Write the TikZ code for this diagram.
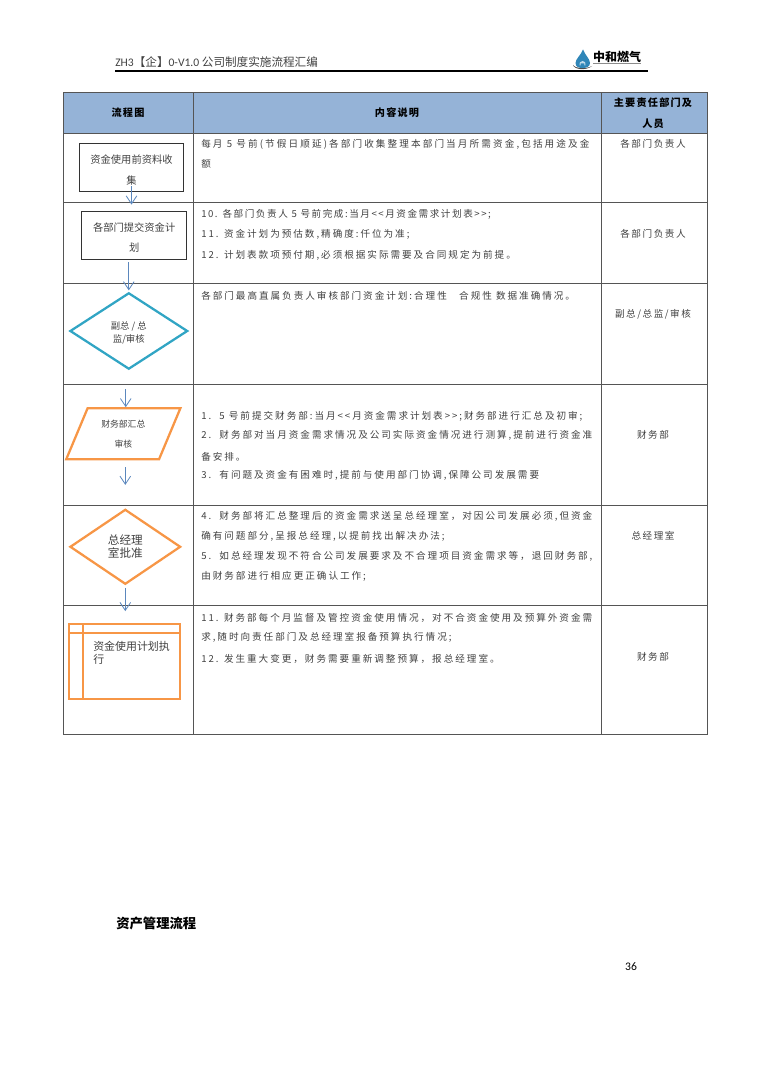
\documentclass[tikz,border=0pt]{standalone}
\usepackage{xcolor}
\usepackage{fontspec}
\usetikzlibrary{arrows.meta, shapes.geometric}
\setmainfont{Carlito}
\newfontfamily\cjk{Noto Sans CJK SC}
\newfontfamily\cjkbody[LetterSpace=20.5]{Noto Sans CJK SC}
\newfontfamily\cjkwide[LetterSpace=22]{Noto Sans CJK SC}
\newfontfamily\cjkduty[LetterSpace=16]{Noto Sans CJK SC}
\newfontfamily\cjkhead[LetterSpace=12]{Noto Sans CJK SC}
\definecolor{headBlue}{HTML}{95B3D7}
\definecolor{ruleGray}{HTML}{555555}
\definecolor{inkGray}{HTML}{404040}
\definecolor{flowOrange}{HTML}{F79646}
\definecolor{flowTeal}{HTML}{31A5C4}
\definecolor{arrowBlue}{HTML}{5B87BD}
\definecolor{dropBlue}{HTML}{2F86B8}
\begin{document}
\begin{tikzpicture}[
    x=0.75pt, y=-0.75pt,
    rule/.style={draw=ruleGray, line width=0.75pt},
    bodyline/.style={anchor=west, inner sep=0pt, font=\cjkbody\fontsize{7.2}{7.2}\selectfont, text=inkGray},
    wideline/.style={bodyline, font=\cjkwide\fontsize{7.2}{7.2}\selectfont},
    shortline/.style={bodyline, font=\cjkduty\fontsize{7.2}{7.2}\selectfont},
    dutyline/.style={inner sep=0pt, font=\cjkduty\fontsize{7.2}{7.2}\selectfont, text=inkGray},
    headcell/.style={inner sep=0pt, font=\cjkhead\bfseries\fontsize{7.6}{7.6}\selectfont},
    flowbox/.style={rectangle, draw=black!80, line width=0.75pt, inner sep=0pt, align=center, font=\cjk\fontsize{7.7}{15.4}\selectfont, text=inkGray},
    decision/.style={diamond, inner sep=0pt, align=center, line width=1.7pt},
    datasum/.style={trapezium, trapezium left angle=65, trapezium right angle=115, trapezium stretches=true, draw=flowOrange, line width=1.7pt, inner sep=0pt, align=center, font=\cjk\fontsize{6.6}{15}\selectfont, text=inkGray},
    store/.style={rectangle, draw=flowOrange, line width=1.7pt, inner sep=0pt},
    arrow/.style={-{Straight Barb[length=6pt, width=8pt]}, line width=0.6pt, arrowBlue}
]
\useasboundingbox (0,0) rectangle (764,1080);

% Page head
\node[anchor=west, inner sep=0pt, font=\fontsize{8.7}{9}\selectfont, text=inkGray] (title) at (115,62) {ZH3{\cjk【企】}0-V1.0 {\cjk 公司制度实施流程汇编}};
\draw[line width=1.1pt] (115,71) -- (648,71);

% Logo
\fill[dropBlue] (583,49.5) .. controls (585,55) and (590,59) .. (590,63) .. controls (590,67) and (586,68) .. (582.5,68) .. controls (579,68) and (575.5,67) .. (575.5,63) .. controls (575.5,59) and (581,55) .. (583,49.5) -- cycle;
\fill[white!70!dropBlue] (582.5,61) .. controls (585,61) and (586,63) .. (585.5,65.5) -- (584.3,65.5) -- (584.3,63.5) -- (580.7,63.5) -- (580.7,65.5) -- (579.5,65.5) .. controls (579,63) and (580,61) .. (582.5,61) -- cycle;
\fill[black!70] (573,65) .. controls (574,69.5) and (586,71) .. (592,66) .. controls (587,69) and (576,69) .. (573,65) -- cycle;
\node[inner sep=0pt, font=\cjk\bfseries\fontsize{9}{9}\selectfont] (logo) at (617,57) {中和燃气};
\draw[black!45, line width=0.9pt] (593,63.5) -- (641,63.5);

% Table
\fill[headBlue] (63,93) rectangle (707,133.5);
\draw[rule] (63,93) rectangle (707,734);
\draw[rule] (193.5,93) -- (193.5,734);
\draw[rule] (601,93) -- (601,734);
\draw[rule] (63,133.5) -- (707,133.5);
\draw[rule] (63,202.5) -- (707,202.5);
\draw[rule] (63,284) -- (707,284);
\draw[rule] (63,384.5) -- (707,384.5);
\draw[rule] (63,505.5) -- (707,505.5);
\draw[rule] (63,605.5) -- (707,605.5);

% Table head
\node[headcell] (headflow) at (128,113) {流程图};
\node[headcell] (headtext) at (397,113) {内容说明};
\node[headcell] (headduty) at (653,103) {主要责任部门及};
\node[headcell] (headdutyb) at (653,124) {人员};

% Flow shapes
\node[flowbox, minimum width=77.5pt, minimum height=36pt] (collect) at (131.5,167.7) {\rule{0pt}{10pt}资金使用前资料收\\集};
\node[flowbox, minimum width=78.8pt, minimum height=36pt] (submit) at (134.2,235.3) {\rule{0pt}{10pt}各部门提交资金计\\划};
\node[decision, draw=flowTeal, minimum width=88.3pt, minimum height=57.3pt, font=\cjk\fontsize{7}{10}\selectfont, text=inkGray] (review) at (128.8,331) {\rule{0pt}{9pt}副总 / 总\\监/审核};
\node[datasum, minimum width=86pt, minimum height=38.2pt] (summary) at (123.3,433.8) {财务部汇总\\审核};
\node[decision, draw=flowOrange, minimum width=83pt, minimum height=56.2pt, font=\cjk\fontsize{8.7}{10}\selectfont, text=inkGray] (approve) at (125.3,546.8) {总经理\\室批准};
\node[store, minimum width=83.3pt, minimum height=56.3pt] (execute) at (124.5,661.8) {};
\draw[flowOrange, line width=1.7pt] (execute.north west |- 0,633.3) -- (execute.north east |- 0,633.3);
\draw[flowOrange, line width=1.7pt] (83.3,0 |- execute.north) -- (83.3,0 |- execute.south);
\node[anchor=north west, inner sep=0pt, align=left, font=\cjk\fontsize{8.2}{9.8}\selectfont, text=inkGray] (executetext) at (93,640.8) {资金使用计划执\\行};

% Edges
\draw[arrow, shorten <=-4.3pt, shorten >=4.7pt] (collect.south) -- (collect.south |- submit.north);
\draw[arrow, shorten <=2pt, shorten >=1pt] (review.north |- submit.south) -- (review.north);
\draw[arrow, shorten <=14pt] ([xshift=-2.3pt]review.south) -- ([xshift=-2.3pt]review.south |- summary.north);
\draw[arrow, shorten <=5pt, shorten >=17.5pt] (approve.north |- summary.south) -- (approve.north);
\draw[arrow, shorten <=1.8pt, shorten >=9pt] (approve.south) -- (approve.south |- execute.north);

% Row text
\node[wideline] (r1a) at (201,144) {每月 5 号前(节假日顺延)各部门收集整理本部门当月所需资金,包括用途及金};
\node[bodyline] (r1b) at (201,164.3) {额};
\node[shortline] (r2a) at (201,214) {10. 各部门负责人 5 号前完成:当月<<月资金需求计划表>>;};
\node[bodyline] (r2b) at (201,234) {11. 资金计划为预估数,精确度:仟位为准;};
\node[bodyline] (r2c) at (201,255) {12. 计划表款项预付期,必须根据实际需要及合同规定为前提。};
\node[bodyline] (r3a) at (201,296) {各部门最高直属负责人审核部门资金计划:合理性\ \ \ 合规性 数据准确情况。};
\node[bodyline] (r4a) at (201,416) {1.\ \ 5 号前提交财务部:当月<<月资金需求计划表>>;财务部进行汇总及初审;};
\node[bodyline] (r4b) at (201,435.3) {2.\ \ 财务部对当月资金需求情况及公司实际资金情况进行测算,提前进行资金准};
\node[bodyline] (r4c) at (201,457.3) {备安排。};
\node[bodyline] (r4d) at (201,475.3) {3.\ \ 有问题及资金有困难时,提前与使用部门协调,保障公司发展需要};
\node[bodyline] (r5a) at (201,516.7) {4.\ \ 财务部将汇总整理后的资金需求送呈总经理室，对因公司发展必须,但资金};
\node[bodyline] (r5b) at (201,536) {确有问题部分,呈报总经理,以提前找出解决办法;};
\node[bodyline] (r5c) at (201,556) {5.\ \ 如总经理发现不符合公司发展要求及不合理项目资金需求等，退回财务部,};
\node[bodyline] (r5d) at (201,576) {由财务部进行相应更正确认工作;};
\node[bodyline] (r6a) at (201,618.3) {11. 财务部每个月监督及管控资金使用情况，对不合资金使用及预算外资金需};
\node[bodyline] (r6b) at (201,637.7) {求,随时向责任部门及总经理室报备预算执行情况;};
\node[bodyline] (r6c) at (201,659) {12. 发生重大变更，财务需要重新调整预算，报总经理室。};

% Duty column
\node[dutyline] (d1) at (653,144) {各部门负责人};
\node[dutyline] (d2) at (653,234) {各部门负责人};
\node[dutyline] (d3) at (653,314.3) {副总/总监/审核};
\node[dutyline] (d4) at (653,435) {财务部};
\node[dutyline] (d5) at (653,536) {总经理室};
\node[dutyline] (d6) at (653,657) {财务部};

% Page foot
\node[anchor=west, inner sep=0pt, font=\cjk\bfseries\fontsize{10}{10}\selectfont] (nextsection) at (116,923) {资产管理流程};
\node[inner sep=0pt, font=\fontsize{8.7}{8.7}\selectfont] (pagenum) at (631,967) {36};
\end{tikzpicture}
\end{document}
